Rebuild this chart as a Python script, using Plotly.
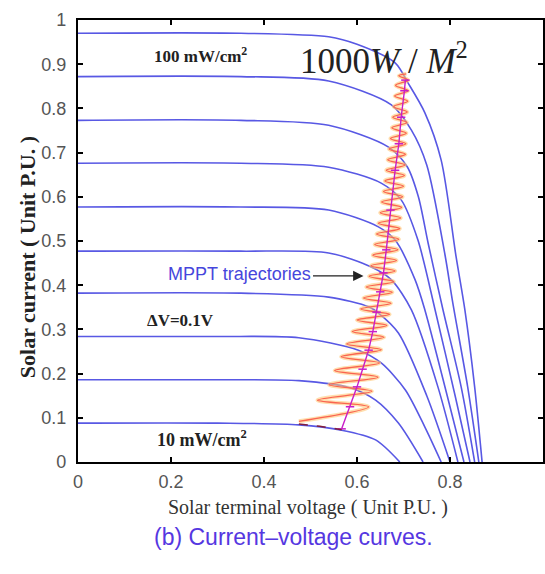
import plotly.graph_objects as go

# ---- I-V curves, top (100 mW/cm2) to bottom (10 mW/cm2)
curve_v = [
    [0, 0.35, 0.539, 0.600, 0.682, 0.710, 0.746, 0.781, 0.813, 0.832, 0.853, 0.869],
    [0, 0.35, 0.539, 0.674, 0.717, 0.750, 0.789, 0.806, 0.838, 0.862],
    [0, 0.35, 0.539, 0.667, 0.708, 0.732, 0.753, 0.785, 0.824, 0.853],
    [0, 0.35, 0.539, 0.652, 0.695, 0.731, 0.768, 0.811, 0.843],
    [0, 0.35, 0.539, 0.646, 0.682, 0.725, 0.746, 0.794, 0.830],
    [0, 0.35, 0.539, 0.631, 0.674, 0.717, 0.774, 0.817],
    [0, 0.35, 0.539, 0.625, 0.646, 0.689, 0.750, 0.800],
    [0, 0.30, 0.475, 0.603, 0.652, 0.704, 0.746, 0.781],
    [0, 0.30, 0.475, 0.588, 0.640, 0.689, 0.742],
    [0, 0.30, 0.475, 0.567, 0.640, 0.692],
]
curve_i = [
    [0.970, 0.970, 0.962, 0.945, 0.903, 0.857, 0.790, 0.683, 0.465, 0.344, 0.170, 0.0],
    [0.872, 0.872, 0.862, 0.808, 0.751, 0.672, 0.470, 0.360, 0.170, 0.0],
    [0.773, 0.773, 0.762, 0.713, 0.668, 0.600, 0.495, 0.344, 0.170, 0.0],
    [0.676, 0.676, 0.667, 0.631, 0.593, 0.502, 0.344, 0.150, 0.0],
    [0.577, 0.577, 0.570, 0.532, 0.502, 0.412, 0.344, 0.150, 0.0],
    [0.477, 0.477, 0.473, 0.441, 0.412, 0.344, 0.170, 0.0],
    [0.382, 0.382, 0.373, 0.351, 0.337, 0.292, 0.150, 0.0],
    [0.284, 0.284, 0.281, 0.253, 0.224, 0.163, 0.079, 0.0],
    [0.186, 0.186, 0.184, 0.167, 0.140, 0.088, 0.0],
    [0.088, 0.088, 0.084, 0.072, 0.050, 0.0],
]

# ---- MPPT trajectory (zig-zag) vertices
mppt_v = [0.475, 0.625, 0.515, 0.632, 0.540, 0.645, 0.552, 0.648, 0.566, 0.652,
          0.578, 0.658, 0.590, 0.664, 0.600, 0.670, 0.608, 0.673, 0.614, 0.676,
          0.620, 0.679, 0.626, 0.682, 0.630, 0.685, 0.634, 0.688, 0.638, 0.690,
          0.642, 0.692, 0.646, 0.694, 0.650, 0.696, 0.653, 0.698, 0.657, 0.700,
          0.660, 0.702, 0.663, 0.703, 0.666, 0.704, 0.669, 0.705, 0.672, 0.706,
          0.675, 0.707, 0.677, 0.708, 0.679, 0.709, 0.681, 0.710, 0.683, 0.710,
          0.690, 0.706]
mppt_i = [0.092, 0.125, 0.140, 0.160, 0.175, 0.192, 0.207, 0.224, 0.238, 0.254,
          0.267, 0.282, 0.295, 0.309, 0.321, 0.334, 0.346, 0.359, 0.371, 0.384,
          0.396, 0.408, 0.420, 0.432, 0.444, 0.456, 0.468, 0.480, 0.492, 0.504,
          0.516, 0.528, 0.540, 0.552, 0.564, 0.576, 0.588, 0.600, 0.612, 0.624,
          0.636, 0.648, 0.660, 0.672, 0.684, 0.696, 0.708, 0.720, 0.732, 0.744,
          0.756, 0.768, 0.780, 0.792, 0.804, 0.816, 0.828, 0.840, 0.852, 0.864,
          0.874, 0.878]

# ---- maximum power point locus
mpp_v = [0.567, 0.585, 0.600, 0.612, 0.625, 0.634, 0.642, 0.650, 0.657, 0.663,
         0.672, 0.682, 0.690, 0.695, 0.702, 0.704]
mpp_i = [0.075, 0.125, 0.170, 0.210, 0.253, 0.295, 0.339, 0.385, 0.428, 0.480,
         0.570, 0.660, 0.720, 0.780, 0.840, 0.864]

# dark dashed segment along lowest curve
low_v = [0.475, 0.520, 0.567]
low_i = [0.086, 0.081, 0.073]

x_ticks = [0, 0.2, 0.4, 0.6, 0.8, 1]
y_ticks = [0, 0.1, 0.2, 0.3, 0.4, 0.5, 0.6, 0.7, 0.8, 0.9, 1]

fig = go.Figure()
BLUE = "rgb(88,88,228)"
for v, i in zip(curve_v, curve_i):
    fig.add_trace(go.Scatter(x=v, y=i, mode="lines",
                             line=dict(color=BLUE, width=1.6, shape="spline", smoothing=0.8),
                             hoverinfo="skip", showlegend=False))

fig.add_trace(go.Scatter(x=mppt_v, y=mppt_i, mode="lines",
                         line=dict(color="rgba(255,200,120,0.6)", width=4, shape="spline", smoothing=1),
                         hoverinfo="skip", showlegend=False))
fig.add_trace(go.Scatter(x=mppt_v, y=mppt_i, mode="lines",
                         line=dict(color="rgb(250,100,80)", width=1.3, shape="spline", smoothing=1),
                         hoverinfo="skip", showlegend=False))
fig.add_trace(go.Scatter(x=mpp_v, y=mpp_i, mode="lines+markers",
                         line=dict(color="rgb(200,30,200)", width=1.4),
                         marker=dict(symbol="line-ew", size=6,
                                     line=dict(color="rgb(200,30,200)", width=1.5)),
                         hoverinfo="skip", showlegend=False))
fig.add_trace(go.Scatter(x=low_v, y=low_i, mode="lines",
                         line=dict(color="rgb(130,30,60)", width=1.5, dash="dash"),
                         hoverinfo="skip", showlegend=False))

SERIF = "Liberation Serif, Times New Roman, serif"
SANS = "Liberation Sans, Arial, sans-serif"

ann = [
    dict(x=0.263, y=0.921, xref="x", yref="y", text="<b>100 mW/cm<sup>2</sup></b>",
         showarrow=False, font=dict(family=SERIF, size=17, color="#222")),
    dict(x=0.657, y=0.912, xref="x", yref="y", text="1000<i>W</i> / <i>M</i><sup>2</sup>",
         showarrow=False, font=dict(family=SERIF, size=35, color="#222")),
    dict(x=0.22, y=0.321, xref="x", yref="y", text="<b>ΔV=0.1V</b>",
         showarrow=False, font=dict(family=SERIF, size=17, color="#222")),
    dict(x=0.267, y=0.054, xref="x", yref="y", text="<b>10 mW/cm<sup>2</sup></b>",
         showarrow=False, font=dict(family=SERIF, size=18, color="#222")),
    dict(x=0.347, y=0.425, xref="x", yref="y", text="MPPT trajectories",
         showarrow=False, font=dict(family=SANS, size=18, color="rgb(70,70,220)")),
    dict(x=0.614, y=0.421, xref="x", yref="y", ax=-52, ay=0, text="",
         showarrow=True, arrowhead=2, arrowsize=1.6, arrowwidth=1.3, arrowcolor="#222"),
    dict(x=-0.107, y=0.464, xref="paper", yref="paper", xanchor="center", yanchor="middle",
         text="<b>Solar current ( Unit P.U. )</b>",
         textangle=-90, showarrow=False, font=dict(family=SERIF, size=22, color="#222")),
    dict(x=0.495, y=-0.104, xref="paper", yref="paper", xanchor="center", yanchor="middle",
         text="Solar terminal voltage ( Unit P.U. )",
         showarrow=False, font=dict(family=SERIF, size=20, color="#333")),
    dict(x=0.4625, y=-0.17, xref="paper", yref="paper", xanchor="center", yanchor="middle",
         text="(b) Current–voltage curves.",
         showarrow=False, font=dict(family=SANS, size=23, color="rgb(85,55,225)")),
]

axis_common = dict(showline=True, linewidth=2.2, linecolor="black", mirror="ticks",
                   ticks="inside", ticklen=5, tickwidth=1.5, tickcolor="black",
                   showgrid=False, zeroline=False,
                   tickfont=dict(family=SANS, size=18, color="#555"))

fig.update_layout(
    width=545, height=574,
    margin=dict(l=78, r=0, t=20, b=112),
    paper_bgcolor="white", plot_bgcolor="white",
    xaxis=dict(range=[0, 1], tickvals=x_ticks, ticktext=[str(t) for t in x_ticks],
               ticklabelstandoff=2, **axis_common),
    yaxis=dict(range=[0, 1], tickvals=y_ticks, ticktext=[str(t) for t in y_ticks],
               ticklabelstandoff=6, **axis_common),
    annotations=ann,
    showlegend=False,
)
fig.write_html("out.html")
